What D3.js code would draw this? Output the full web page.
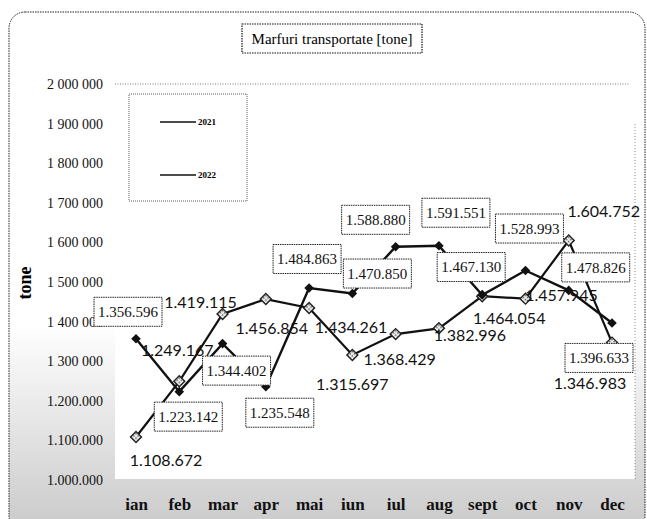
<!DOCTYPE html>
<meta charset="utf-8">
<script src="https://d3js.org/d3.v7.min.js"></script>
<style>
  body { margin: 0; background: #fff; }
</style>
<div id="chart"></div>
<script>
    // data
    var months = ["ian", "feb", "mar", "apr", "mai", "iun", "iul", "aug", "sept", "oct", "nov", "dec"];
    var values2021 = [1356596, 1223142, 1344402, 1235548, 1484863, 1470850, 1588880, 1591551, 1467130, 1528993, 1478826, 1396633];
    var values2022 = [1108672, 1249167, 1419115, 1456854, 1434261, 1315697, 1368429, 1382996, 1464054, 1457945, 1604752, 1346983];
    var yTicks = [1000000, 1100000, 1200000, 1300000, 1400000, 1500000, 1600000, 1700000, 1800000, 1900000, 2000000];
    var yTickLabels = ["1.000.000", "1.100.000", "1.200.000", "1 300 000", "1 400 000", "1 500 000",
                       "1 600 000", "1 700 000", "1 800 000", "1 900 000", "2 000 000"];

    // label placement offsets (from the point), by month
    var off2021 = [[-8,-27],[9,25],[14,27],[14,26],[-2,-29],[25,-20],[-20,-27],[17,-33],[-11,-28],[4,-42],[27,-23],[-13,35]];
    var off2022 = [[30,23],[-2,-31],[-22,-12],[6,29],[42,19],[0,29],[4,25],[31,7],[27,22],[36,-3],[35,-29],[-22,41]];

    var W = 647, H = 519;
    var plot = {left: 115, right: 635, top: 84, bottom: 479};

    var svg = d3.select("#chart").append("svg")
        .attr("width", W).attr("height", H);

    var defs = svg.append("defs");
    var grad = defs.append("linearGradient").attr("id", "bg")
        .attr("x1", 0).attr("y1", 0).attr("x2", 0).attr("y2", 1);
    grad.append("stop").attr("offset", "0.6").attr("stop-color", "#ffffff");
    grad.append("stop").attr("offset", "1").attr("stop-color", "#c9c9c9");

    var pat = defs.append("pattern").attr("id", "hatch")
        .attr("width", 3).attr("height", 3).attr("patternUnits", "userSpaceOnUse");
    pat.append("rect").attr("width", 3).attr("height", 3).attr("fill", "#f4f4f4");
    pat.append("rect").attr("width", 1.5).attr("height", 1.5).attr("fill", "#555");

    // chart area with rounded dotted frame
    svg.append("rect")
        .attr("x", 9).attr("y", 12).attr("width", 636).attr("height", 520)
        .attr("rx", 16)
        .attr("fill", "url(#bg)")
        .attr("stroke", "#222").attr("stroke-width", 1)
        .attr("stroke-dasharray", "1.5,1");

    // plot area
    svg.append("rect")
        .attr("x", plot.left).attr("y", plot.top)
        .attr("width", plot.right - plot.left).attr("height", plot.bottom - plot.top)
        .attr("fill", "#fff");

    svg.append("line")
        .attr("x1", plot.left).attr("x2", plot.right - 5)
        .attr("y1", plot.top).attr("y2", plot.top)
        .attr("stroke", "#555").attr("stroke-width", 0.8)
        .attr("stroke-dasharray", "1,1.5");
    svg.append("line")
        .attr("x1", plot.right).attr("x2", plot.right)
        .attr("y1", plot.top + 40).attr("y2", plot.bottom)
        .attr("stroke", "#777").attr("stroke-width", 0.8)
        .attr("stroke-dasharray", "1,2");

    // title
    svg.append("rect")
        .attr("x", 242).attr("y", 24).attr("width", 180).attr("height", 29)
        .attr("fill", "#fff").attr("stroke", "#111").attr("stroke-width", 1.2)
        .attr("stroke-dasharray", "1.5,1");
    svg.append("text")
        .attr("x", 332).attr("y", 44)
        .attr("text-anchor", "middle")
        .style("font-family", "'Liberation Serif', serif")
        .style("font-size", "15px")
        .text("Marfuri transportate [tone]");

    // scales
    var x = d3.scalePoint()
        .domain(months)
        .range([136, 612]);

    var y = d3.scaleLinear()
        .domain([1000000, 2000000])
        .range([480, 84]);

    // Y axis labels
    var yAxis = svg.append("g")
        .attr("transform", "translate(103,0)")
        .call(d3.axisLeft(y).tickValues(yTicks)
            .tickFormat(function (d, i) { return yTickLabels[i]; })
            .tickSize(0).tickPadding(0));
    yAxis.select(".domain").remove();
    yAxis.selectAll("text")
        .style("font-family", "'Liberation Serif', serif")
        .style("font-size", "14px")
        .attr("fill", "#111");

    svg.append("text")
        .attr("transform", "translate(31,283) rotate(-90)")
        .attr("text-anchor", "middle")
        .style("font-family", "'Liberation Serif', serif")
        .style("font-size", "18px")
        .style("font-weight", "bold")
        .text("tone");

    // X axis labels
    var xAxis = svg.append("g")
        .attr("transform", "translate(0,497)")
        .call(d3.axisBottom(x).tickSize(0).tickPadding(0));
    xAxis.select(".domain").remove();
    xAxis.selectAll("text")
        .attr("dy", "0.75em")
        .style("font-family", "'Liberation Serif', serif")
        .style("font-size", "17px")
        .style("font-weight", "bold")
        .attr("fill", "#111");

    // legend
    svg.append("rect")
        .attr("x", 129).attr("y", 94).attr("width", 118).attr("height", 107)
        .attr("fill", "#fff").attr("stroke", "#333").attr("stroke-width", 0.8)
        .attr("stroke-dasharray", "1,1");
    [["2021", 122], ["2022", 175]].forEach(function (l) {
        svg.append("line")
            .attr("x1", 160).attr("x2", 196).attr("y1", l[1]).attr("y2", l[1])
            .attr("stroke", "#111").attr("stroke-width", 1.3);
        svg.append("text")
            .attr("x", 198).attr("y", l[1] + 3)
            .style("font-family", "'Liberation Serif', serif")
            .style("font-size", "9px")
            .style("font-weight", "bold")
            .text(l[0]);
    });

    var line = d3.line()
        .x(function (d, i) { return x(months[i]); })
        .y(function (d) { return y(d); });

    svg.append("path").datum(values2022)
        .attr("d", line).attr("fill", "none")
        .attr("stroke", "#111").attr("stroke-width", 2.2);
    svg.append("path").datum(values2021)
        .attr("d", line).attr("fill", "none")
        .attr("stroke", "#111").attr("stroke-width", 2.4);

    // markers
    svg.append("g").selectAll("path")
        .data(values2022).enter().append("path")
        .attr("d", d3.symbol().type(d3.symbolSquare).size(60))
        .attr("transform", function (d, i) { return "translate(" + x(months[i]) + "," + y(d) + ") rotate(45)"; })
        .attr("fill", "url(#hatch)").attr("stroke", "#222").attr("stroke-width", 1.4);

    svg.append("g").selectAll("path")
        .data(values2021).enter().append("path")
        .attr("d", d3.symbol().type(d3.symbolSquare).size(46))
        .attr("transform", function (d, i) { return "translate(" + x(months[i]) + "," + y(d) + ") rotate(45)"; })
        .attr("fill", "#111");

    function fmt(v) {
        return d3.format(",")(v).replace(/,/g, ".");
    }

    // 2022 labels (plain)
    svg.append("g").selectAll("text")
        .data(values2022).enter().append("text")
        .attr("x", function (d, i) { return x(months[i]) + off2022[i][0]; })
        .attr("y", function (d, i) { return y(d) + off2022[i][1]; })
        .attr("dy", "0.36em")
        .attr("text-anchor", "middle")
        .style("font-family", "Lato, sans-serif")
        .style("font-size", "16px")
        .attr("fill", "#111")
        .text(fmt);

    // 2021 labels (boxed)
    var lab = svg.append("g").selectAll("g")
        .data(values2021).enter().append("g")
        .attr("transform", function (d, i) {
            return "translate(" + (x(months[i]) + off2021[i][0]) + "," + (y(d) + off2021[i][1]) + ")";
        });
    lab.append("rect")
        .attr("x", -34).attr("y", -14.5).attr("width", 68).attr("height", 29)
        .attr("fill", "#fff").attr("stroke", "#222").attr("stroke-width", 1)
        .attr("stroke-dasharray", "1.5,0.8");
    lab.append("text")
        .attr("dy", "0.35em")
        .attr("text-anchor", "middle")
        .style("font-family", "'Liberation Serif', serif")
        .style("font-size", "15px")
        .attr("fill", "#111")
        .text(fmt);
</script>
